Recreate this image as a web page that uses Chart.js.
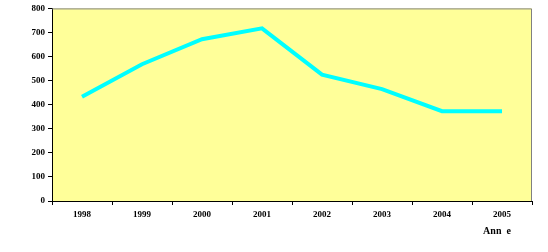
<!DOCTYPE html>
<html>
<head>
<meta charset="utf-8">
<script src="https://cdn.jsdelivr.net/npm/chart.js@4"></script>
<style>
html,body{margin:0;padding:0;background:#fff;}
#wrap{width:548px;height:252px;position:relative;}
</style>
</head>
<body>
<div id="wrap"><canvas id="c" width="548" height="252"></canvas></div>
<script>
const categories = ['1998','1999','2000','2001','2002','2003','2004','2005'];
const values = [433, 568, 672, 717, 525, 465, 373, 373];
const yTicks = [0,100,200,300,400,500,600,700,800];
const axisTitle = 'Ann  e';

const bgPlugin = {
  id: 'bg',
  beforeDraw(chart) {
    const {ctx, chartArea: a} = chart;
    ctx.save();
    ctx.fillStyle = '#FFFF99';
    ctx.fillRect(a.left, a.top, a.right - a.left, a.bottom - a.top);
    ctx.restore();
  },
  afterDraw(chart) {
    const {ctx, chartArea: a} = chart;
    ctx.save();
    ctx.strokeStyle = '#808080';
    ctx.lineWidth = 1;
    ctx.beginPath();
    ctx.moveTo(a.left, a.top + 0.5);
    ctx.lineTo(a.right - 0.5, a.top + 0.5);
    ctx.lineTo(a.right - 0.5, a.bottom);
    ctx.stroke();
    ctx.fillStyle = '#000';
    ctx.font = 'bold 10px "Liberation Serif"';
    ctx.textAlign = 'center';
    ctx.textBaseline = 'middle';
    ctx.fillText(axisTitle, 497, 231);
    ctx.restore();
  }
};

new Chart(document.getElementById('c'), {
  type: 'line',
  data: {
    labels: categories,
    datasets: [{
      data: values,
      borderColor: '#00FFFF',
      borderWidth: 4,
      pointRadius: 0,
      tension: 0,
      fill: false
    }]
  },
  options: {
    responsive: false,
    animation: false,
    layout: {padding: {left: 0, top: 7, right: 16, bottom: 0}},
    plugins: {legend: {display: false}, tooltip: {enabled: false}},
    scales: {
      x: {
        offset: true,
        grid: {offset: true, drawOnChartArea: false, drawTicks: true, tickLength: 4, color: '#000'},
        border: {color: '#000', width: 1},
        ticks: {color: '#000', font: {family: 'Liberation Serif', size: 9, weight: 'bold'}, padding: 4, maxRotation: 0},
        afterFit(s) { s.height = 51; }
      },
      y: {
        min: 0, max: 800,
        afterBuildTicks(s) { s.ticks = yTicks.map(v => ({value: v})); },
        grid: {drawOnChartArea: false, drawTicks: true, tickLength: 4, color: '#000'},
        border: {color: '#000', width: 1},
        ticks: {color: '#000', font: {family: 'Liberation Serif', size: 9, weight: 'bold'}, padding: 3},
        afterFit(s) { s.width = 52; }
      }
    }
  },
  plugins: [bgPlugin]
});
</script>
</body>
</html>
